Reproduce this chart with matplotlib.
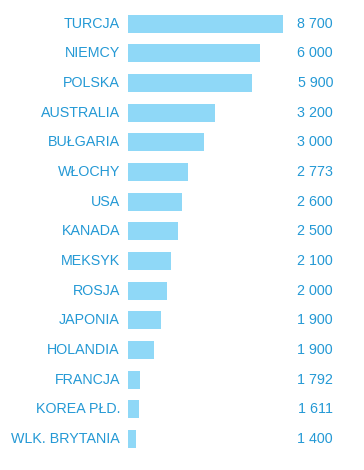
import matplotlib
matplotlib.use("Agg")
import matplotlib.pyplot as plt

countries = ["TURCJA", "NIEMCY", "POLSKA", "AUSTRALIA", "BUŁGARIA", "WŁOCHY", "USA",
             "KANADA", "MEKSYK", "ROSJA", "JAPONIA", "HOLANDIA", "FRANCJA",
             "KOREA PŁD.", "WLK. BRYTANIA"]
value_labels = ["8 700", "6 000", "5 900", "3 200", "3 000", "2 773", "2 600",
                "2 500", "2 100", "2 000", "1 900", "1 900", "1 792", "1 611", "1 400"]
# bar lengths as drawn in the reference (not proportional to the printed values)
bar_lengths = [155, 132, 124, 87, 76, 60, 54, 50, 43, 39, 33, 26, 12, 11, 8]

bar_color = "#8fd8f7"
text_color = "#2499d5"

fig = plt.figure(figsize=(3.64, 4.70), dpi=100)
ax = fig.add_axes([0, 0, 1, 1])
ax.set_xlim(-128, 236)
ax.set_ylim(15.045, -0.799)
ax.axis("off")

ys = list(range(len(countries)))
ax.barh(ys, bar_lengths, height=0.61, color=bar_color, left=0)

font = dict(family=["Liberation Sans", "DejaVu Sans"], fontsize=10.3, color=text_color)
for y, name, val in zip(ys, countries, value_labels):
    ax.text(-8, y, name, ha="right", va="center", **font)
    ax.text(205, y, val, ha="right", va="center", **font)

fig.savefig("out.png", dpi=100, facecolor="white")
